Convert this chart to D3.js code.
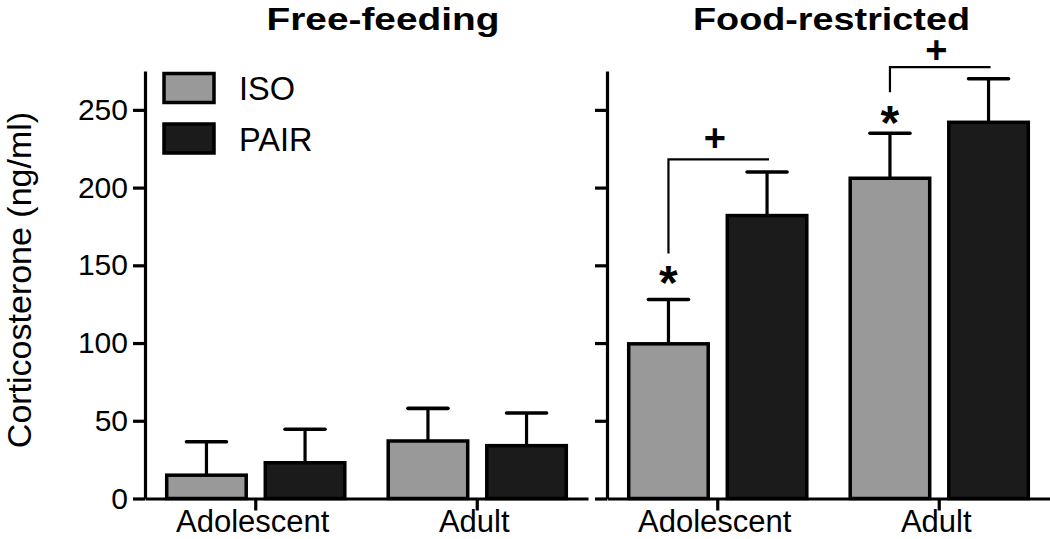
<!DOCTYPE html>
<html>
<head>
<meta charset="utf-8">
<script src="https://cdn.jsdelivr.net/npm/d3@7"></script>
<style>
  html, body { margin: 0; padding: 0; background: #fff; }
  svg { display: block; font-family: "Liberation Sans", Arial, Helvetica, sans-serif; }
</style>
</head>
<body>
<svg id="chart" width="1050" height="539"></svg>
<script>
// ---------- data ----------
const groups = ["Adolescent", "Adult"];
const series = ["ISO", "PAIR"];
const panelTitles = ["Free-feeding", "Food-restricted"];
const yTicks = [0, 50, 100, 150, 200, 250];

const freeISO = [15, 37];
const freeISOErr = [21.5, 21];
const freePAIR = [23, 34];
const freePAIRErr = [21.5, 21];

const foodISO = [99.5, 206];
const foodISOErr = [28.5, 29];
const foodPAIR = [182, 242];
const foodPAIRErr = [28, 28];

// significance annotations (food-restricted panel), in data units
const starLabel = "*";
const starValues = [143.6, 246.5];
const plusLabel = "+";
const bracketLow = [157.6, 261.4];
const bracketHigh = [218.2, 277.5];
const plusValues = [231.5, 288.5];

// ---------- layout ----------
const svg = d3.select("#chart");
const colors = { ISO: "#999999", PAIR: "#1b1b1b" };
const y = d3.scaleLinear().domain([0, 275]).range([498.5, 71]);

const panels = [
  { title: panelTitles[0], range: [145, 588], titleX: 383, titleW: 233,
    data: { ISO: freeISO, PAIR: freePAIR }, err: { ISO: freeISOErr, PAIR: freePAIRErr } },
  { title: panelTitles[1], range: [607, 1050], titleX: 831.5, titleW: 277,
    data: { ISO: foodISO, PAIR: foodPAIR }, err: { ISO: foodISOErr, PAIR: foodPAIRErr } }
];

const x1 = d3.scaleBand().domain(series).range([-90.8, 90.8]).paddingInner(0.158).paddingOuter(0);
const barStroke = 3.5;

panels.forEach((p, pi) => {
  const x0 = d3.scaleBand().domain(groups).range(p.range).padding(0);
  const g = svg.append("g");

  const rows = [];
  groups.forEach((grp, gi) => series.forEach(s => rows.push({ grp, s, v: p.data[s][gi], e: p.err[s][gi] })));
  const cx = d => x0(d.grp) + x0.bandwidth() / 2 + x1(d.s) + x1.bandwidth() / 2;

  // error bars (stem + cap)
  g.selectAll(".stem").data(rows).join("line")
    .attr("x1", cx).attr("x2", cx)
    .attr("y1", d => y(d.v)).attr("y2", d => y(d.v + d.e))
    .attr("stroke", "#000").attr("stroke-width", 3.2);
  g.selectAll(".cap").data(rows).join("line")
    .attr("x1", d => cx(d) - 20).attr("x2", d => cx(d) + 20)
    .attr("y1", d => y(d.v + d.e)).attr("y2", d => y(d.v + d.e))
    .attr("stroke", "#000").attr("stroke-width", 3.6).attr("stroke-linecap", "round");

  // bars
  g.selectAll(".bar").data(rows).join("rect")
    .attr("x", d => cx(d) - x1.bandwidth() / 2 + barStroke / 2)
    .attr("width", x1.bandwidth() - barStroke)
    .attr("y", d => y(d.v))
    .attr("height", d => y(0) - y(d.v))
    .attr("fill", d => colors[d.s])
    .attr("stroke", "#000").attr("stroke-width", barStroke);

  // axes
  const yAxis = d3.axisLeft(y).tickValues(yTicks).tickSize(12).tickSizeOuter(0).tickPadding(5)
    .tickFormat(pi === 0 ? d3.format("d") : () => "");
  const ya = g.append("g").attr("transform", `translate(${p.range[0]},0)`).call(yAxis);

  const xAxis = d3.axisBottom(x0).tickSize(12).tickSizeOuter(0).tickPadding(-0.5);
  const xa = g.append("g").attr("transform", `translate(0,${y(0)})`).call(xAxis);

  [ya, xa].forEach(a => {
    a.select(".domain").attr("stroke", "#000").attr("stroke-width", 3.2);
    a.selectAll(".tick line").attr("stroke", "#000").attr("stroke-width", 3.2);
    a.selectAll(".tick text").attr("fill", "#000")
      .attr("font-family", "'Liberation Sans', Arial, sans-serif");
  });
  ya.selectAll(".tick text").attr("font-size", 30);
  xa.selectAll(".tick text").attr("font-size", 31).attr("dx", -3);

  // title
  svg.append("text")
    .attr("x", p.titleX)
    .attr("y", 29.5)
    .attr("text-anchor", "middle")
    .attr("font-weight", "bold")
    .attr("font-size", 32)
    .attr("textLength", p.titleW)
    .attr("lengthAdjust", "spacingAndGlyphs")
    .text(p.title);

  if (pi === 1) {
    const cISO = gi => x0(groups[gi]) + x0.bandwidth() / 2 + x1("ISO") + x1.bandwidth() / 2;
    const cPAIR = gi => x0(groups[gi]) + x0.bandwidth() / 2 + x1("PAIR") + x1.bandwidth() / 2;
    groups.forEach((grp, gi) => {
      // bracket
      g.append("path")
        .attr("d", `M${cISO(gi)},${y(bracketLow[gi])}V${y(bracketHigh[gi])}H${cPAIR(gi) + 2}`)
        .attr("fill", "none").attr("stroke", "#000").attr("stroke-width", 2.2);
      // star
      g.append("text")
        .attr("x", cISO(gi))
        .attr("y", y(starValues[gi]) + 24)
        .attr("text-anchor", "middle")
        .attr("font-weight", "bold")
        .attr("font-size", 48)
        .text(starLabel);
      // plus
      g.append("text")
        .attr("x", x0(grp) + x0.bandwidth() / 2 - 3)
        .attr("y", y(plusValues[gi]) + 12.5)
        .attr("text-anchor", "middle")
        .attr("font-weight", "bold")
        .attr("font-size", 38)
        .text(plusLabel);
    });
  }
});

// y axis title
svg.append("text")
  .attr("transform", "translate(31,280) rotate(-90)")
  .attr("text-anchor", "middle")
  .attr("font-size", 34)
  .text("Corticosterone (ng/ml)");

// legend
const legend = svg.append("g");
series.forEach((s, i) => {
  legend.append("rect")
    .attr("x", 164).attr("y", 73.5 + i * 50.5)
    .attr("width", 50).attr("height", 29)
    .attr("fill", colors[s]).attr("stroke", "#000").attr("stroke-width", barStroke);
  legend.append("text")
    .attr("x", 239).attr("y", 100 + i * 50.5)
    .attr("font-size", 32.5)
    .text(s);
});
</script>
</body>
</html>
